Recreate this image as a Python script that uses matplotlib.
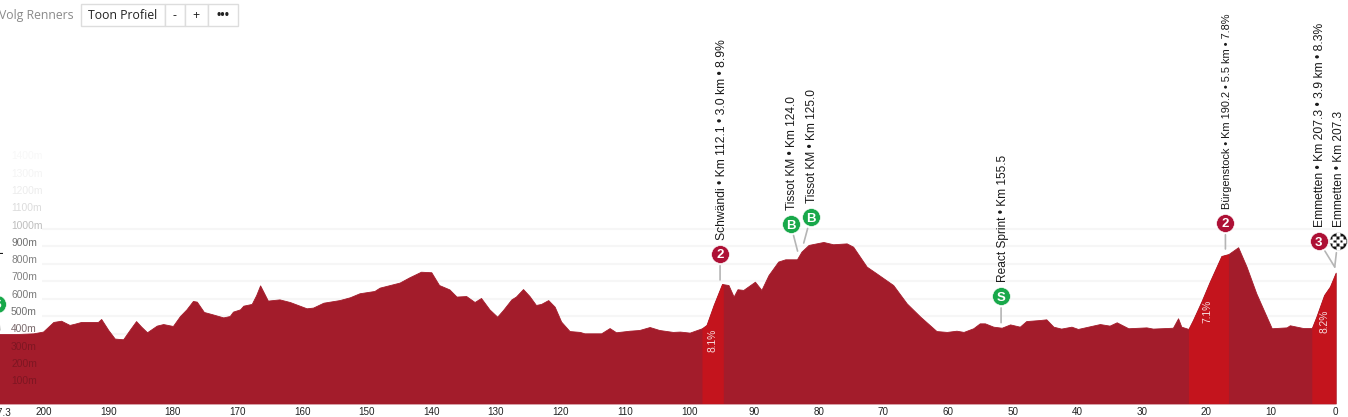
import matplotlib
matplotlib.use("Agg")
import matplotlib.pyplot as plt
from matplotlib.patches import Rectangle
from matplotlib.transforms import ScaledTranslation
import numpy as np

plt.rcParams["font.family"] = ["Liberation Sans", "DejaVu Sans"]

# ---- data ----
km = [207.3,204.2,201.6,200.1,198.5,197.3,196,195.2,194.2,191.6,191.1,190,189,187.7,186.7,185.7,184.9,184,182.5,181.5,180,178.9,177.9,176.9,176.3,175.2,174,172.2,171.2,170.7,169.6,169.1,167.8,167.1,166.5,166,165.3,163.5,161.9,159.3,158.3,156.7,154.2,
      152.6,151.1,148.8,148,144.9,143.4,141.6,140,138.8,137.2,136.1,134.6,133.3,132.3,131,129.8,128.9,127.6,126.9,125.8,124.8,123.8,123,121.9,120.9,119.9,118.6,117,116.3,113.7,112.4,111.4,109.3,107.8,106.2,104.7,102.6,
      101.5,100,98.1,97.4,96.3,95,94,93.2,92.6,91.7,89.9,88.9,87.8,86.3,85.2,83.4,82.7,81.6,79.3,77.8,75.7,74.7,72.6,71.1,68.5,66.4,64.3,61.8,60.2,58.7,57.6,56.1,55.1,54.3,53,51.7,50.4,
      48.9,47.9,45.8,44.8,43.7,42.5,40.9,39.9,36.5,35,33.9,32.1,29.3,28.3,25.2,24.4,23.9,22.8,22.1,20.8,19.5,17.7,16.6,15.1,13.8,12.3,9.9,7.6,7.1,5,3.7,3,1.8,0.9,0]
elev = [397,397,401,411,466,473,449,456,466,466,483,420,371,367,420,471,439,407,445,454,443,500,538,586,582,523,511,492,500,525,538,559,569,620,675,639,588,595,580,544,548,576,591,
        607,630,643,662,691,721,753,750,677,652,611,614,580,603,538,496,534,595,611,654,614,563,569,591,553,468,414,409,401,401,431,407,416,420,437,420,409,
        411,405,430,449,563,683,677,611,653,649,696,649,734,811,824,824,868,906,923,910,915,896,782,744,677,572,496,414,409,416,409,430,458,458,439,433,452,
        439,471,477,481,439,428,439,426,454,445,464,430,435,428,433,487,439,426,477,582,696,843,854,893,782,630,430,435,447,431,431,496,620,668,748]

x_ticks = [200,190,180,170,160,150,140,130,120,110,100,90,80,70,60,50,40,30,20,10,0]
x_tick_labels = ["200","190","180","170","160","150","140","130","120","110","100","90","80","70","60","50","40","30","20","10","0"]
x_start_label = "207.3"
y_ticks = [100,200,300,400,500,600,700,800,900,1000,1100,1200,1300,1400]
y_tick_labels = [f"{v}m" for v in y_ticks]
y_tick_colors = ["#7e1622","#7e1622","#7e1622","#7a6a6c","#707070","#7a7a7a","#808080","#808080","#707070","#bdbdbd","#dcdcdc","#ececec","#f4f4f4","#f8f8f8"]

climb_spans = [(98.1,94.8),(22.8,16.6),(3.7,0)]
climb_pct = ["8.1%","7.1%","8.2%"]
climb_pct_km = [96.5,19.8,1.8]
climb_pct_elev = [363,525,467]

labels = ["Start Sprint • Km 0.0 • Km 0.0","Schwändi • Km 112.1 • 3.0 km • 8.9%","Tissot KM • Km 124.0","Tissot KM • Km 125.0",
          "React Sprint • Km 155.5","Bürgenstock • Km 190.2 • 5.5 km • 7.8%","Emmetten • Km 207.3 • 3.9 km • 8.3%","Emmetten • Km 207.3"]
label_km = [206.8,95.3,83.3,82.35,51.8,17.07,0.15,0.15]
label_elev = [420,706,871,917,462,883,780,780]
badge_dx = [-3,0,-7,7,0,0,-16,3]
badge_dy = [26,26,27,26,26.5,26,26,26]
badge_text = ["S","2","B","B","S","2","3","F"]
badge_color = ["#18a84a","#ad1035","#18a84a","#18a84a","#18a84a","#ad1035","#ad1035","#111111"]
label_size = [8.6,8.7,8.6,8.6,8.6,7.95,8.7,8.6]

FILL = "#a31c2b"
HILITE = "#c4141d"
W, H = 1348, 417
BASE = 403.5

fig = plt.figure(figsize=(W/100, H/100), dpi=100, facecolor="white")
ax = fig.add_axes([0, (H-BASE)/H, 1, BASE/H])
ax.set_xticks(x_ticks, x_tick_labels, fontsize=7.1, color="#222222")
ax.tick_params(axis="x", length=0, pad=2.5)
ax.set_yticks([])
ax.set_xlim(1335.7/6.46, -12.3/6.46)
ax.set_ylim(0, BASE/17.5*100)
ax.set_facecolor("white")
for s in ax.spines.values():
    s.set_visible(False)

ax.hlines(y_ticks[:10], 200.3, 0, color="#f6f6f6", lw=1.6, zorder=0)

kma, ea = np.array(km), np.array(elev)
ax.fill_between(kma, 0, ea, color=FILL, lw=0.6, zorder=1)
for a, b in climb_spans:
    xs = np.r_[a, kma[(kma < a) & (kma > b)], b]
    ax.fill_between(xs, 0, np.interp(xs, kma[::-1], ea[::-1]), color=HILITE, lw=0, zorder=1.1)
for k, e, t in zip(climb_pct_km, climb_pct_elev, climb_pct):
    ax.text(k, e, t, rotation=90, color="white", fontsize=7.4, ha="center", va="center", alpha=.85, zorder=3)

ax.annotate(x_start_label, xy=(207.0, 0), xytext=(0, -3.5), textcoords="offset points", ha="center", va="top",
            fontsize=7.1, color="#222222", annotation_clip=False)

for v, lab, c in zip(y_ticks, y_tick_labels, y_tick_colors):
    ax.annotate(lab, xy=(0, v), xycoords=("axes fraction", "data"), xytext=(11, 4.9 - 0.2*v/100), textcoords="offset pixels",
                ha="left", va="center", fontsize=7.4, color=c, zorder=3)

def badge_trans(dx, dy):
    return ax.transData + ScaledTranslation(dx/100, dy/100, fig.dpi_scale_trans)

for lab, k, e, dx, dy, bt, col, fs in zip(labels, label_km, label_elev, badge_dx, badge_dy, badge_text, badge_color, label_size):
    ax.annotate("", xy=(k, e), xytext=(dx, dy), textcoords="offset pixels", xycoords="data", annotation_clip=False,
                arrowprops=dict(arrowstyle="-", color="#b5b5b5", lw=1.2, shrinkA=8.5, shrinkB=0), zorder=4)
    ax.plot([k], [e], marker="o", ms=12.8, mfc=col, mec="white", mew=0.4, zorder=5, ls="none",
            transform=badge_trans(dx, dy), clip_on=False)
    if bt == "F":
        for i in range(-2, 3):
            for j in range(-2, 3):
                if (i + j) % 2 == 0 and abs(i) + abs(j) < 4:
                    ax.plot([k], [e], marker="s", ms=2.5, mfc="white", mec="none", zorder=6, ls="none",
                            transform=badge_trans(dx + 3.3*i, dy + 3.3*j), clip_on=False)
    else:
        ax.annotate(bt, xy=(k, e), xytext=(dx, dy), textcoords="offset pixels",
                    ha="center", va="center_baseline", color="white", fontsize=9.5, fontweight="bold", zorder=6)
    ax.annotate(lab, xy=(k, e), xytext=(dx+1.5, dy+14), textcoords="offset pixels", rotation=90,
                ha="center", va="bottom", fontsize=fs, color="#1a1a1a", zorder=6, annotation_clip=False)

# toolbar
for x0, x1 in [(81, 165), (165, 185), (185, 208), (208, 238)]:
    fig.add_artist(Rectangle((x0/W, 1-26/H), (x1-x0)/W, 21.5/H, transform=fig.transFigure, fc="white", ec="#dddddd", lw=1))
def tbar(x, s, color="#222222", size=8.8, **kw):
    fig.text(x/W, 1-15.5/H, s, color=color, fontsize=size, ha="center", va="center", family="Open Sans", **kw)
tbar(36, "Volg Renners", "#8a8a8a")
tbar(123, "Toon Profiel")
tbar(175, "-")
tbar(196, "+")
tbar(223, "•••", size=8.5, fontweight="bold")

fig.savefig("out.png", dpi=100)
